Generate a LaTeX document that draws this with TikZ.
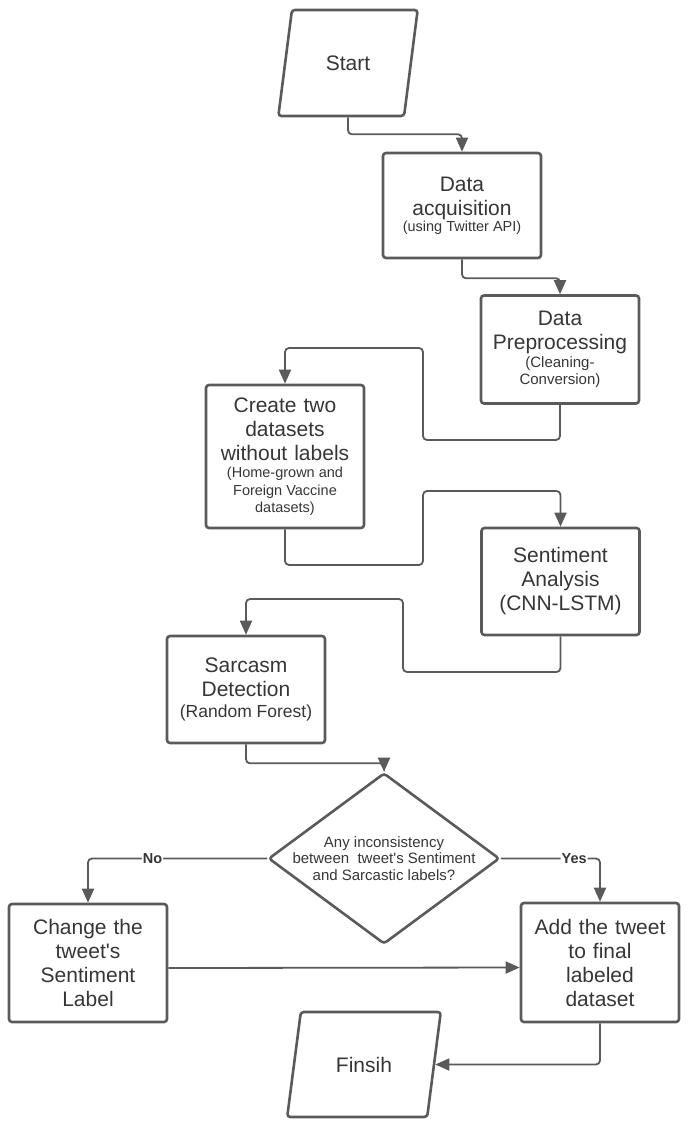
\documentclass[tikz,border=0pt]{standalone}
\usepackage{xcolor}
\usepackage{fontspec}
\setmainfont{Liberation Sans}
\usepackage{tikz}
\usetikzlibrary{shapes.geometric,arrows.meta}

\definecolor{linegray}{HTML}{5A5A5A}
\definecolor{textgray}{HTML}{363636}

% smaller second-line text inside a box: size, line skip, text
\newcommand{\subtxt}[3]{\par{\centering\fontsize{#1}{#2}\selectfont
  \spaceskip=0pt \xspaceskip=0pt #3\par}}

\tikzset{
  stepbox/.style={rectangle, draw=linegray, line width=2.6pt, rounded corners=3pt,
    minimum width=158pt, text width=150pt, align=center, text=textgray,
    font=\fontsize{21}{24}\selectfont, inner sep=2pt},
  io/.style={trapezium, trapezium stretches=true, draw=linegray, line width=2.6pt,
    rounded corners=3pt, text=textgray, font=\fontsize{21}{24}\selectfont},
  decision/.style={diamond, draw=linegray, line width=2.6pt, rounded corners=3pt,
    align=center, text=textgray, font=\fontsize{15}{16.5}\selectfont, inner sep=-14pt},
  flow/.style={draw=linegray, line width=1.8pt, rounded corners=4pt,
    -{Triangle[width=12pt,length=14pt]}},
  answer/.style={fill=white, text=textgray, inner sep=1pt,
    font=\bfseries\fontsize{14.5}{17}\selectfont}
}

\begin{document}
\begin{tikzpicture}[x=1pt, y=-1pt] % y=-1pt: y grows downward like the picture

    % 0. Fix the page size
    \useasboundingbox (0,0) rectangle (688,1128);

    % 1. Start and the first two steps
    \node[io, trapezium left angle=74, trapezium right angle=106,
          minimum width=140pt, minimum height=106pt] (start) at (348,63) {Start};
    \node[stepbox, minimum height=105pt] (acq) at (462,205.5)
        {Data\\acquisition\subtxt{14.5}{16}{(using Twitter API)}};
    \node[stepbox, minimum height=108pt] (prep) at (560,349.5)
        {Data\\Preprocessing\subtxt{15}{17.5}{(Cleaning-\\Conversion)}};

    % 2. Datasets, sentiment and sarcasm
    \node[stepbox, minimum height=143pt] (sets) at (285,456.5)
        {Create two\\datasets\\without labels\subtxt{14.5}{17.5}{(Home-grown and\\Foreign Vaccine\\datasets)}};
    \node[stepbox, minimum height=107pt] (senti) at (560.5,581.5)
        {Sentiment\\Analysis\\(CNN-LSTM)};
    \node[stepbox, minimum height=107pt] (sarc) at (246,689.5)
        {Sarcasm\\Detection\subtxt{17.5}{21}{(Random Forest)}};

    % 3. Decision and the two outcomes
    \node[decision, minimum width=231pt, minimum height=157pt] (check) at (384,858.5)
        {Any inconsistency\\between\ \ tweet\textquotesingle s Sentiment\\and Sarcastic labels?};
    \node[stepbox, minimum height=118pt] (change) at (88,963)
        {Change the\\tweet\textquotesingle s\\Sentiment\\Label};
    \node[stepbox, minimum height=119pt] (add) at (600,962.5)
        {Add the tweet\\to final\\labeled\\dataset};
    \node[io, trapezium left angle=73, trapezium right angle=107,
          minimum width=154pt, minimum height=105pt] (finish) at (364,1064.5) {Finsih};

    % 4. Bend points of the zig-zag connectors
    \coordinate (j1) at (423,440);
    \coordinate (j2) at (423,348);
    \coordinate (j3) at (423,565);
    \coordinate (j4) at (423,491);
    \coordinate (j5) at (403,672);
    \coordinate (j6) at (403,599);

    % 5. Connectors
    \draw[flow] (start.south) -- ++(0,17) -| (acq.north);
    \draw[flow] (acq.south) -- ++(0,19) -| (prep.north);
    \draw[flow] (prep.south) |- (j1) -- (j2) -| (sets.north);
    \draw[flow] (sets.south) |- (j3) -- (j4) -| (senti.north);
    \draw[flow] (senti.south) |- (j5) -- (j6) -| (sarc.north);
    \draw[flow] (sarc.south) -- ++(0,19) -| (check.north);
    \draw[flow] (check.west) -| node[answer, pos=0.32] (no) {No} (change.north);
    \draw[flow] (check.east) -| node[answer, pos=0.37] (yes) {Yes} (add.north);
    \draw[flow] ([yshift=-5pt]change.east) -- ([yshift=-5pt]add.west);
    \draw[flow] (add.south) |- (finish.east);

\end{tikzpicture}
\end{document}
